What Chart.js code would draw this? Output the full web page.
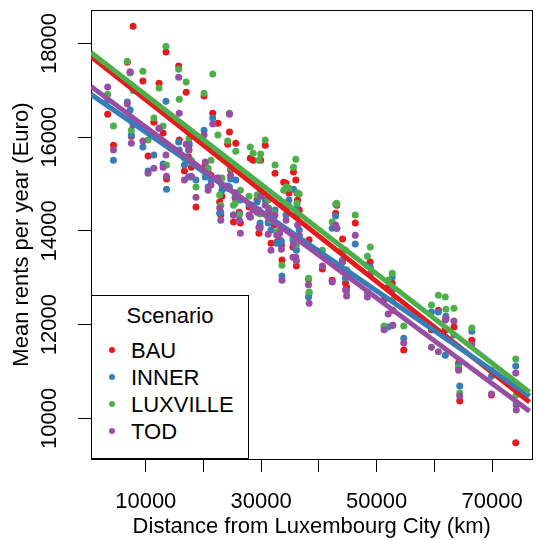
<!DOCTYPE html>
<html>
<head>
<title>Mean rents vs distance from Luxembourg City</title>
<script src="https://cdn.jsdelivr.net/npm/chart.js"></script>
<style>
    body { margin: 0; background: #fff; overflow: hidden; }
    .wrap { position: relative; width: 537px; height: 540px; overflow: hidden; }
    #rentChart { position: absolute; left: 0; top: 0; }
    .legend {
        position: absolute; left: 91px; top: 295px; width: 158px; height: 164px;
        box-sizing: border-box; border: 1px solid #000; background: #fff;
        font-family: "Liberation Sans", Arial, sans-serif; font-size: 22px; line-height: 27px; color: #000;
    }
    .legend .title { position: absolute; left: 0; right: 0; top: 5.6px; text-align: center; }
    .legend .item { position: absolute; left: 39px; white-space: nowrap; }
    .legend .dot { position: absolute; left: 17px; width: 6px; height: 6px; border-radius: 50%; }
</style>
</head>
<body>
<div class="wrap">
    <canvas id="rentChart" width="540" height="540"></canvas>
    <div class="legend" id="legend"><div class="title">Scenario</div></div>
</div>
<script>
    const scenarios = ['BAU', 'INNER', 'LUXVILLE', 'TOD'];
    const scenarioColors = ['#E41A1C', '#377EB8', '#4DAF4A', '#984EA3'];

    // distance of each commune (x), one rent value per scenario
    const distance = [3400, 4400, 6800, 7300, 7500, 7800, 9500, 10400, 11400, 12300,
        13000, 13500, 13600, 15700, 15800, 17000, 17400, 18700, 20100, 21600,
        20300, 21300, 22500, 22800, 23000, 24500, 25600, 25200, 26400, 28100,
        28600, 29600, 30700, 31200, 31700, 32400, 33200, 33600, 34300, 35600,
        36000, 36100, 36300, 36600, 38200, 38300, 40600, 42300, 42900, 43100,
        44100, 44600, 44800, 46300, 48400, 48900, 51300, 52000, 52700, 52800,
        54700, 59500, 60700, 61900, 62000, 63400, 64400, 64200, 66500, 69900, 74100, 74200,
        16700, 17900, 17500, 20800, 23200, 24700, 25500, 26200, 27900, 29300,
        29800, 31300, 32200, 32700, 33500, 35500, 36200, 33900, 34800, 29900, 24200];

    const rentBAU = [16490, 15830, 17600, 17390, 16020, 18370, 17200, 15600, 16320, 17150,
        16090, 17820, 15110, 17520, 15940, 16960, 15580, 14510, 16880, 16510,
        15410, 15190, 16300, 14620, 14340, 16110, 15870, 14190, 14170, 15550,
        15510, 13950, 15830, 14340, 13740, 15230, 13810, 13380, 15020, 15260,
        15090, 13250, 14660, 14450, 12970, 13810, 13190, 12950, 14380, 14550,
        13830, 12890, 12800, 14170, 13270, 13340, 12530, 12800, 12890, 12310,
        11460, 11890, 12310, 11890, 12140, 11950, 10370, 11180, 11670, 10500, 9480, 10290,
        15280, 15360, 15830, 15260, 14740, 15300, 14700, 14400, 14510, 14660,
        14100, 14380, 14130, 13760, 13700, 13660, 14810, 15040, 14810, 15510, 15850];

    const rentINNER = [16790, 15510, 16750, 16580, 16050, 16370, 15790, 15280, 15620, 16190,
        15430, 16770, 14890, 15900, 15730, 15580, 15150, 15090, 16150, 16410,
        15150, 15090, 15130, 14380, 14400, 14940, 15090, 14340, 14660, 14300,
        14550, 14450, 14660, 14170, 14020, 14450, 13740, 13040, 14340, 14890,
        13630, 13590, 14340, 14020, 12590, 12670, 13490, 14060, 14320, 14060,
        13380, 12990, 12720, 13720, 12700, 13230, 11950, 11950, 13020, 11990,
        11710, 12270, 12270, 11350, 12180, 11780, 10690, 11140, 11860, 10900, 11120, 10330,
        15410, 15150, 15870, 14940, 14870, 15110, 14810, 14360, 14570, 14620,
        14170, 14230, 14190, 13740, 13780, 13810, 14530, 14590, 14660, 14830, 14960];

    const rentLUXVILLE = [16920, 16240, 17620, 17370, 16150, 17000, 17410, 15940, 16410, 17050,
        16240, 17940, 15410, 17450, 16810, 17180, 15730, 14940, 16940, 17350,
        15300, 15510, 16050, 14770, 14550, 16510, 15700, 14550, 14870, 15790,
        15660, 15510, 15940, 14660, 14230, 15410, 14020, 13270, 14940, 15360,
        15530, 13700, 14810, 14790, 12990, 12700, 13590, 14190, 14570, 14590,
        13610, 13590, 13170, 14340, 13460, 13660, 11970, 12950, 13100, 12530,
        11970, 12420, 12630, 12590, 12330, 12350, 10540, 11080, 11930, 11030, 11270, 10500,
        15550, 15510, 15980, 15340, 15130, 15340, 14590, 14340, 14740, 14770,
        14360, 14490, 14400, 13980, 14080, 13890, 14590, 14870, 14910, 15640, 15920];

    const rentTOD = [17070, 15730, 16710, 17390, 15870, 16260, 15920, 15230, 15340, 16190,
        15360, 15620, 15170, 17280, 16510, 15850, 15510, 14720, 16050, 16280,
        15470, 14980, 15130, 14490, 14230, 16490, 14810, 14340, 13950, 14300,
        14450, 14080, 14550, 13930, 13590, 14340, 13950, 12950, 14230, 13720,
        13440, 13360, 14130, 13910, 12850, 12460, 13250, 12910, 14130, 14060,
        13340, 12740, 12610, 13910, 12590, 13080, 11890, 12230, 12740, 11990,
        11610, 11520, 11420, 12100, 12120, 12080, 10480, 11030, 11570, 10520, 10970, 10180,
        15090, 15170, 15730, 14870, 14980, 15190, 14720, 14230, 14340, 14400,
        14060, 14450, 14300, 13910, 13610, 13440, 14400, 14510, 14530, 14740, 14910];

    // fitted regression lines, read at both ends of the plot
    const fitDistance = [500, 76500];
    const fitBAU = [17725, 10348];
    const fitINNER = [16915, 10475];
    const fitLUXVILLE = [17810, 10560];
    const fitTOD = [17085, 10155];

    const xTickValues = [10000, 20000, 30000, 40000, 50000, 60000, 70000];
    const xTickLabels = ['10000', '', '30000', '', '50000', '', '70000'];
    const yTickValues = [10000, 12000, 14000, 16000, 18000];

    const rents = [rentBAU, rentINNER, rentLUXVILLE, rentTOD];
    const fits = [fitBAU, fitINNER, fitLUXVILLE, fitTOD];

    Chart.defaults.font.family = '"Liberation Sans", Arial, sans-serif';
    Chart.defaults.font.size = 22;
    Chart.defaults.color = '#000';

    const datasets = [];
    scenarios.forEach((name, i) => {
        datasets.push({
            label: name,
            data: distance.map((d, j) => ({ x: d, y: rents[i][j] })),
            backgroundColor: scenarioColors[i],
            borderWidth: 0,
            pointRadius: 3.5,
            order: 7 - i
        });
        datasets.push({
            label: name + ' fit',
            data: fitDistance.map((d, j) => ({ x: d, y: fits[i][j] })),
            showLine: true,
            borderColor: scenarioColors[i],
            borderWidth: 5,
            pointRadius: 0,
            clip: 0,
            order: 3 - i
        });
    });

    // full box round the plot region
    const plotBox = {
        id: 'plotBox',
        beforeDatasetsDraw(chart) {
            const { ctx, chartArea: a } = chart;
            ctx.save();
            ctx.strokeStyle = '#000';
            ctx.lineWidth = 1;
            const l = Math.round(a.left) + 0.5, t = Math.round(a.top) + 0.5;
            ctx.strokeRect(l, t, Math.round(a.right) - l + 0.5, Math.round(a.bottom) - t + 0.5);
            ctx.restore();
        }
    };

    new Chart(document.getElementById('rentChart'), {
        type: 'scatter',
        data: { datasets: datasets },
        plugins: [plotBox],
        options: {
            responsive: false,
            animation: false,
            layout: { padding: { top: 10, left: 0, right: 0, bottom: 0 } },
            plugins: { legend: { display: false }, tooltip: { enabled: false } },
            scales: {
                x: {
                    type: 'linear',
                    position: 'bottom',
                    min: 510,
                    max: 77000,
                    afterBuildTicks: scale => { scale.ticks = xTickValues.map(v => ({ value: v })); },
                    afterFit: scale => { scale.height = 81; },
                    border: { display: false },
                    grid: { drawOnChartArea: false, drawTicks: true, tickLength: 13, color: '#000', lineWidth: 1 },
                    ticks: {
                        autoSkip: false, maxRotation: 0, minRotation: 0, padding: 17, color: '#000',
                        callback: (value, index) => xTickLabels[index]
                    },
                    title: { display: true, text: 'Distance from Luxembourg City (km)', color: '#000', padding: { top: 0, bottom: 0 } }
                },
                y: {
                    type: 'linear',
                    position: 'left',
                    min: 9134,
                    max: 18711,
                    afterBuildTicks: scale => { scale.ticks = yTickValues.map(v => ({ value: v })); },
                    afterFit: scale => { scale.width = 91; },
                    border: { display: false },
                    grid: { drawOnChartArea: false, drawTicks: true, tickLength: 13, color: '#000', lineWidth: 1 },
                    ticks: {
                        autoSkip: false, minRotation: 90, maxRotation: 90, crossAlign: 'center', padding: -3, color: '#000',
                        callback: value => String(value)
                    },
                    title: { display: true, text: 'Mean rents per year (Euro)', color: '#000', padding: { top: 9, bottom: 0 } }
                }
            }
        }
    });

    // legend box in the lower left corner
    const legend = document.getElementById('legend');
    scenarios.forEach((name, i) => {
        const dot = document.createElement('div');
        dot.className = 'dot';
        dot.style.top = (51 + i * 27) + 'px';
        dot.style.background = scenarioColors[i];
        legend.appendChild(dot);
        const item = document.createElement('div');
        item.className = 'item';
        item.style.top = (41.2 + i * 27) + 'px';
        item.textContent = name;
        legend.appendChild(item);
    });
</script>
</body>
</html>
